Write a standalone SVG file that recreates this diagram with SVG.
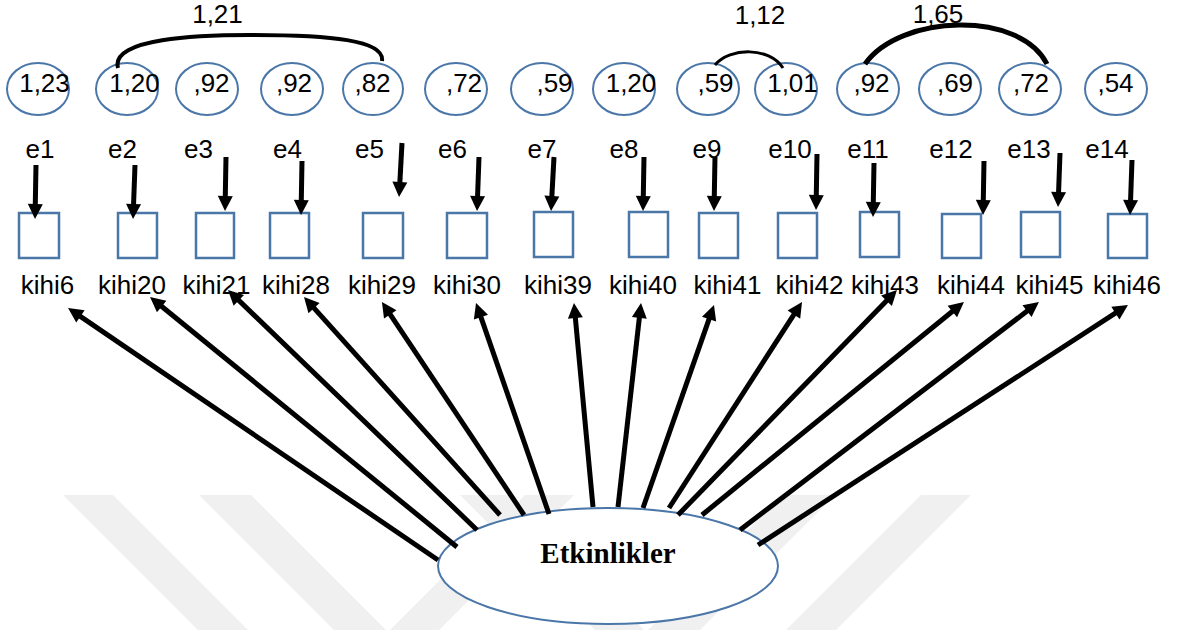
<svg xmlns="http://www.w3.org/2000/svg" width="1179" height="630" viewBox="0 0 1179 630">
  <style>
    .lbl { font-family: "Liberation Sans", Arial, sans-serif; font-size: 26px; fill: #000; text-anchor: middle; }
    .err { fill: #fff; stroke: #4a76a8; stroke-width: 2; }
    .obs { fill: #fff; stroke: #4a76a8; stroke-width: 2.5; }
    .lat { fill: #fff; stroke: #4a76a8; stroke-width: 2; }
    .latlbl { font-family: "Liberation Serif", "Times New Roman", serif; font-size: 29px; font-weight: bold; fill: #000; text-anchor: middle; }
    .path { stroke: #000; stroke-width: 5; fill: none; marker-end: url(#ah); }
    .cov { stroke: #000; fill: none; stroke-linecap: butt; }
    .wm { fill: #f0f0f0; }
  </style>
  <defs>
    <marker id="ah" markerUnits="userSpaceOnUse" markerWidth="18" markerHeight="18" viewBox="-6 -9 18 18" refX="0" refY="0" orient="auto">
      <path d="M-5,-7.5 L10,0 L-5,7.5 z" fill="#000"/>
    </marker>
  </defs>

  <rect width="1179" height="630" fill="#fff"/>

  <!-- faint background mark -->
  <g id="watermark">
    <polygon class="wm" points="63,495 113,495 248,630 198,630"/>
    <polygon class="wm" points="199,495 251,495 386,630 334,630"/>
    <polygon class="wm" points="525,495 574,495 439,630 390,630"/>
    <polygon class="wm" points="460,495 509,495 644,630 595,630"/>
    <polygon class="wm" points="783,495 835,495 700,630 648,630"/>
    <polygon class="wm" points="921,495 971,495 836,630 786,630"/>
  </g>

  <!-- latent factor -->
  <g id="etkinlikler">
    <ellipse class="lat" cx="608" cy="566" rx="170" ry="58"/>
    <text class="latlbl" x="608" y="563">Etkinlikler</text>
  </g>

  <!-- error terms: variance in the ellipse, name beneath -->
  <g id="e1"><ellipse class="err" cx="38" cy="89" rx="31" ry="26"/><text class="lbl" x="44.5" y="92">1,23</text><text class="lbl" x="40" y="158">e1</text></g>
  <g id="e2"><ellipse class="err" cx="127" cy="89" rx="31" ry="26"/><text class="lbl" x="134.5" y="92">1,20</text><text class="lbl" x="122.5" y="158">e2</text></g>
  <g id="e3"><ellipse class="err" cx="207" cy="89" rx="31" ry="26"/><text class="lbl" x="211.5" y="92">,92</text><text class="lbl" x="198.5" y="158">e3</text></g>
  <g id="e4"><ellipse class="err" cx="292" cy="89" rx="31" ry="26"/><text class="lbl" x="294" y="92">,92</text><text class="lbl" x="287.5" y="158">e4</text></g>
  <g id="e5"><ellipse class="err" cx="373" cy="89" rx="30" ry="26"/><text class="lbl" x="372.5" y="92">,82</text><text class="lbl" x="369.5" y="158">e5</text></g>
  <g id="e6"><ellipse class="err" cx="456" cy="89" rx="31" ry="26"/><text class="lbl" x="464" y="92">,72</text><text class="lbl" x="452.5" y="158">e6</text></g>
  <g id="e7"><ellipse class="err" cx="542" cy="89" rx="31" ry="26"/><text class="lbl" x="554.5" y="92">,59</text><text class="lbl" x="542" y="158">e7</text></g>
  <g id="e8"><ellipse class="err" cx="624" cy="89" rx="31" ry="26"/><text class="lbl" x="631" y="92">1,20</text><text class="lbl" x="624" y="158">e8</text></g>
  <g id="e9"><ellipse class="err" cx="708" cy="89" rx="31" ry="26"/><text class="lbl" x="715.5" y="92">,59</text><text class="lbl" x="707" y="158">e9</text></g>
  <g id="e10"><ellipse class="err" cx="786" cy="89" rx="31" ry="26"/><text class="lbl" x="792.5" y="92">1,01</text><text class="lbl" x="790" y="158">e10</text></g>
  <g id="e11"><ellipse class="err" cx="868" cy="89" rx="31" ry="26"/><text class="lbl" x="871.5" y="92">,92</text><text class="lbl" x="868" y="158">e11</text></g>
  <g id="e12"><ellipse class="err" cx="950" cy="89" rx="31" ry="26"/><text class="lbl" x="955" y="92">,69</text><text class="lbl" x="951" y="158">e12</text></g>
  <g id="e13"><ellipse class="err" cx="1030" cy="89" rx="31" ry="26"/><text class="lbl" x="1031" y="92">,72</text><text class="lbl" x="1029" y="158">e13</text></g>
  <g id="e14"><ellipse class="err" cx="1116" cy="89" rx="31" ry="26"/><text class="lbl" x="1115.5" y="92">,54</text><text class="lbl" x="1107" y="158">e14</text></g>

  <!-- observed items -->
  <g id="kihi6"><rect class="obs" x="19" y="213" width="40" height="45"/><text class="lbl" x="47.5" y="294">kihi6</text></g>
  <g id="kihi20"><rect class="obs" x="118" y="213" width="39" height="45"/><text class="lbl" x="132" y="294">kihi20</text></g>
  <g id="kihi21"><rect class="obs" x="196" y="213" width="38" height="45"/><text class="lbl" x="216.5" y="294">kihi21</text></g>
  <g id="kihi28"><rect class="obs" x="270" y="213" width="39" height="45"/><text class="lbl" x="296" y="294">kihi28</text></g>
  <g id="kihi29"><rect class="obs" x="363" y="213" width="40" height="45"/><text class="lbl" x="382" y="294">kihi29</text></g>
  <g id="kihi30"><rect class="obs" x="447" y="213" width="40" height="45"/><text class="lbl" x="467" y="294">kihi30</text></g>
  <g id="kihi39"><rect class="obs" x="534" y="212" width="39" height="45"/><text class="lbl" x="558" y="294">kihi39</text></g>
  <g id="kihi40"><rect class="obs" x="629" y="212" width="39" height="45"/><text class="lbl" x="643" y="294">kihi40</text></g>
  <g id="kihi41"><rect class="obs" x="699" y="213" width="39" height="45"/><text class="lbl" x="727.5" y="294">kihi41</text></g>
  <g id="kihi42"><rect class="obs" x="778" y="213" width="39" height="45"/><text class="lbl" x="809.5" y="294">kihi42</text></g>
  <g id="kihi43"><rect class="obs" x="860" y="212" width="39" height="45"/><text class="lbl" x="885" y="294">kihi43</text></g>
  <g id="kihi44"><rect class="obs" x="942" y="214" width="39" height="44"/><text class="lbl" x="971" y="294">kihi44</text></g>
  <g id="kihi45"><rect class="obs" x="1021" y="212" width="39" height="45"/><text class="lbl" x="1049.5" y="294">kihi45</text></g>
  <g id="kihi46"><rect class="obs" x="1108" y="214" width="39" height="44"/><text class="lbl" x="1127" y="294">kihi46</text></g>

  <g id="connectors">
    <!-- error paths -->
    <line class="path" x1="36" y1="165" x2="35.2" y2="209"/>
    <line class="path" x1="135" y1="165" x2="133.4" y2="209"/>
    <line class="path" x1="226" y1="157" x2="225.2" y2="201"/>
    <line class="path" x1="302" y1="161" x2="301.2" y2="205"/>
    <line class="path" x1="402" y1="143" x2="399.6" y2="187"/>
    <line class="path" x1="479" y1="157" x2="477.4" y2="201"/>
    <line class="path" x1="554" y1="157" x2="551.6" y2="201"/>
    <line class="path" x1="644" y1="157" x2="643.2" y2="201"/>
    <line class="path" x1="715" y1="157" x2="714.2" y2="201"/>
    <line class="path" x1="817" y1="154" x2="816.2" y2="200"/>
    <line class="path" x1="874" y1="163" x2="873.2" y2="207"/>
    <line class="path" x1="984" y1="161" x2="983.2" y2="205"/>
    <line class="path" x1="1060" y1="153" x2="1058.4" y2="197"/>
    <line class="path" x1="1132" y1="160" x2="1130.4" y2="205"/>

    <!-- factor loadings -->
    <line class="path" x1="438" y1="560" x2="76.3" y2="313.6"/>
    <line class="path" x1="457" y1="547" x2="157.8" y2="303.3"/>
    <line class="path" x1="477" y1="530" x2="235.2" y2="296.9"/>
    <line class="path" x1="500" y1="515" x2="310.7" y2="304.4"/>
    <line class="path" x1="524" y1="515" x2="387.5" y2="310.3"/>
    <line class="path" x1="549" y1="514" x2="479.3" y2="312.4"/>
    <line class="path" x1="593" y1="507" x2="574.9" y2="313"/>
    <line class="path" x1="618" y1="507" x2="639.9" y2="312.9"/>
    <line class="path" x1="643" y1="508" x2="710.7" y2="314.4"/>
    <line class="path" x1="669" y1="508" x2="796.6" y2="310.4"/>
    <line class="path" x1="678" y1="515" x2="890" y2="297.2"/>
    <line class="path" x1="702" y1="515" x2="956.2" y2="308.3"/>
    <line class="path" x1="740" y1="530" x2="1031" y2="308.1"/>
    <line class="path" x1="758" y1="545" x2="1119.6" y2="310.4"/>

    <!-- error covariances -->
    <path class="cov" stroke-width="4" d="M118,68 C110,38 200,35 250,35 C330,35 385,40 382,61"/>
    <text class="lbl" x="217.5" y="23">1,21</text>
    <path class="cov" stroke-width="3" d="M715,65 C730,47 770,47 783,68"/>
    <text class="lbl" x="760" y="24">1,12</text>
    <path class="cov" stroke-width="5" d="M865,64 C900,14 1020,10 1047,64"/>
    <text class="lbl" x="938" y="23">1,65</text>
  </g>
</svg>
